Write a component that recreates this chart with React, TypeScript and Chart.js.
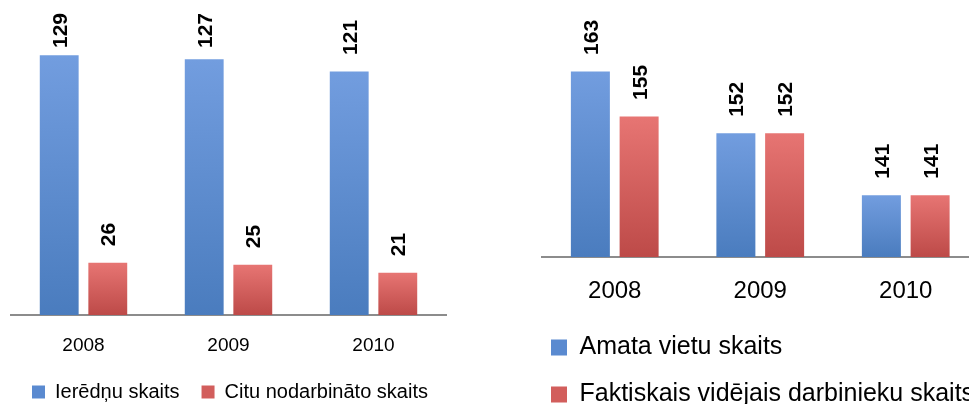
import React, { useEffect, useRef } from "react";
import { Chart, registerables } from "chart.js";

Chart.register(...registerables);

// ---- data ----
const years = ["2008", "2009", "2010"];
const ierednuValues = [129, 127, 121];
const cituValues = [26, 25, 21];
const amataValues = [163, 152, 141];
const faktiskaisValues = [155, 152, 141];
const leftSeriesNames = ["Ierēdņu skaits", "Citu nodarbināto skaits"];
const rightSeriesNames = ["Amata vietu skaits", "Faktiskais vidējais darbinieku skaits"];

const FONT = "'Liberation Sans', Arial, Helvetica, sans-serif";
const BLUE_TOP = "#729ddf";
const BLUE_BOTTOM = "#4a7cbe";
const RED_TOP = "#e77573";
const RED_BOTTOM = "#bd4a48";
const BLUE_LEGEND = "#5a8ad0";
const RED_LEGEND = "#d25e5c";

function gradientFill(top: string, bottom: string) {
  return (ctx: any) => {
    const chart = ctx.chart;
    const area = chart.chartArea;
    if (!area || ctx.type !== "data" || ctx.raw == null) return bottom;
    const yTop = chart.scales.y.getPixelForValue(ctx.raw);
    const g = chart.ctx.createLinearGradient(0, Math.min(yTop, area.bottom - 1), 0, area.bottom);
    g.addColorStop(0, top);
    g.addColorStop(1, bottom);
    return g;
  };
}

const verticalLabels = {
  id: "verticalLabels",
  afterDatasetsDraw(chart: any, _args: any, opts: any) {
    const { ctx } = chart;
    ctx.save();
    ctx.font = `bold ${opts.size}px ${FONT}`;
    ctx.fillStyle = "#000";
    ctx.textAlign = "left";
    ctx.textBaseline = "alphabetic";
    chart.data.datasets.forEach((ds: any, di: number) => {
      const meta = chart.getDatasetMeta(di);
      meta.data.forEach((bar: any, i: number) => {
        const text = String(ds.data[i]);
        const w = ctx.measureText(text).width;
        let yEnd = bar.y - opts.offset;
        if (yEnd - w < opts.minTop) yEnd = opts.minTop + w;
        ctx.save();
        ctx.translate(bar.x + (opts.size * 0.716) / 2, yEnd);
        ctx.rotate(-Math.PI / 2);
        ctx.fillText(text, 0, 0);
        ctx.restore();
      });
    });
    ctx.restore();
  },
};

function legendLabels(colors: string[]) {
  return (chart: any) =>
    (Chart.defaults.plugins.legend.labels as any).generateLabels(chart).map((l: any, i: number) => ({
      ...l,
      fillStyle: colors[i],
      strokeStyle: colors[i],
      lineWidth: 0,
    }));
}

function hiddenAxis(width: number, extra: any = {}) {
  return {
    display: true,
    ...extra,
    ticks: { display: false },
    grid: { display: false, drawTicks: false },
    border: { display: false },
    afterFit: (s: any) => {
      s.width = width;
    },
  };
}

function makeLeftConfig(): any {
  return {
    type: "bar",
    data: {
      labels: years,
      datasets: [
        {
          label: leftSeriesNames[0],
          data: ierednuValues,
          backgroundColor: gradientFill(BLUE_TOP, BLUE_BOTTOM),
          borderWidth: 0,
          categoryPercentage: 0.67,
          barPercentage: 0.8,
        },
        {
          label: leftSeriesNames[1],
          data: cituValues,
          backgroundColor: gradientFill(RED_TOP, RED_BOTTOM),
          borderWidth: 0,
          categoryPercentage: 0.67,
          barPercentage: 0.8,
        },
      ],
    },
    options: {
      responsive: false,
      animation: false,
      devicePixelRatio: 1,
      layout: { padding: { left: 0, right: 0, top: 13, bottom: 0 } },
      scales: {
        x: {
          grid: { display: false, drawTicks: false },
          border: { display: true, color: "#8c8c8c", width: 2 },
          ticks: { color: "#000", font: { size: 19, family: FONT }, padding: 19, maxRotation: 0, autoSkip: false },
          afterFit: (s: any) => {
            s.height = 45;
          },
        },
        y: hiddenAxis(11, { min: 0, max: 150 }),
        y2: hiddenAxis(14, { position: "right", min: 0, max: 150 }),
      },
      plugins: {
        legend: {
          position: "bottom",
          align: "center",
          labels: {
            boxWidth: 13,
            boxHeight: 13,
            padding: 22,
            color: "#000",
            font: { size: 20, family: FONT },
            generateLabels: legendLabels([BLUE_LEGEND, RED_LEGEND]),
          },
        },
        tooltip: { enabled: false },
        verticalLabels: { size: 21, offset: 16.5, minTop: 13 },
      },
    },
    plugins: [verticalLabels],
  };
}

function makeRightConfig(): any {
  return {
    type: "bar",
    data: {
      labels: years,
      datasets: [
        {
          label: rightSeriesNames[0],
          data: amataValues,
          backgroundColor: gradientFill(BLUE_TOP, BLUE_BOTTOM),
          borderWidth: 0,
          categoryPercentage: 0.67,
          barPercentage: 0.8,
        },
        {
          label: rightSeriesNames[1],
          data: faktiskaisValues,
          backgroundColor: gradientFill(RED_TOP, RED_BOTTOM),
          borderWidth: 0,
          categoryPercentage: 0.67,
          barPercentage: 0.8,
        },
      ],
    },
    options: {
      responsive: false,
      animation: false,
      devicePixelRatio: 1,
      layout: { padding: { left: 29, right: 11.5, top: 4, bottom: 0 } },
      scales: {
        x: {
          grid: { display: false, drawTicks: false },
          border: { display: true, color: "#8c8c8c", width: 2 },
          ticks: { color: "#000", font: { size: 24, family: FONT }, padding: 20, maxRotation: 0, autoSkip: false },
          afterFit: (s: any) => {
            s.height = 56;
          },
        },
        y: hiddenAxis(13, { min: 130, max: 175 }),
      },
      plugins: {
        legend: {
          position: "bottom",
          align: "start",
          labels: {
            boxWidth: 16,
            boxHeight: 16,
            padding: 22,
            color: "#000",
            font: { size: 25, family: FONT },
            generateLabels: legendLabels([BLUE_LEGEND, RED_LEGEND]),
          },
        },
        tooltip: { enabled: false },
        verticalLabels: { size: 21, offset: 16.5, minTop: 4 },
      },
    },
    plugins: [verticalLabels],
  };
}

function BarChart({ config, width, height }: { config: () => any; width: number; height: number }) {
  const ref = useRef<HTMLCanvasElement | null>(null);
  useEffect(() => {
    if (!ref.current) return;
    const chart = new Chart(ref.current, config());
    return () => chart.destroy();
  }, [config]);
  return <canvas ref={ref} width={width} height={height} style={{ width, height, display: "block" }} />;
}

export default function App() {
  return (
    <div
      style={{
        position: "fixed",
        left: 0,
        top: 0,
        width: 969,
        height: 404,
        overflow: "hidden",
        background: "#fff",
      }}
    >
      <div style={{ position: "absolute", left: 0, top: 0 }}>
        <BarChart config={makeLeftConfig} width={460} height={412} />
      </div>
      <div style={{ position: "absolute", left: 500, top: 0 }}>
        <BarChart config={makeRightConfig} width={490} height={417} />
      </div>
    </div>
  );
}
